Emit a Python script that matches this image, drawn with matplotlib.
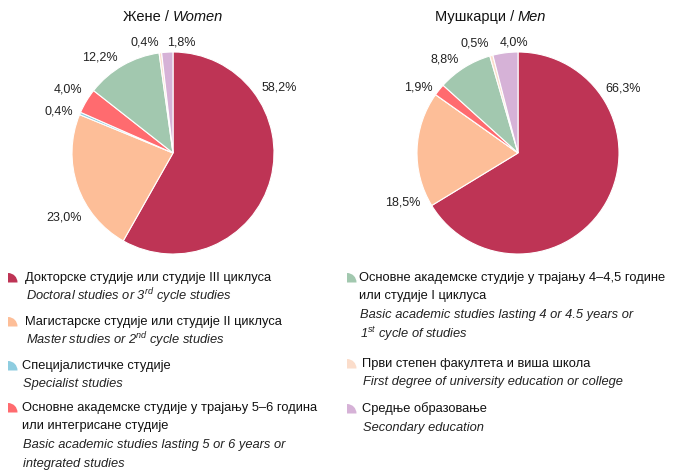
import matplotlib
matplotlib.use('Agg')
import matplotlib.pyplot as plt
from matplotlib.patches import Wedge

plt.rcParams['font.family'] = ['Liberation Sans', 'DejaVu Sans']
plt.rcParams['mathtext.fontset'] = 'custom'
plt.rcParams['mathtext.it'] = 'Liberation Sans:italic'
plt.rcParams['mathtext.rm'] = 'Liberation Sans'

# data
cat_sr = ['Докторске студије или студије III циклуса',
          'Магистарске студије или студије II циклуса',
          'Специјалистичке студије',
          'Основне академске студије у трајању 5–6 година\nили интегрисане студије',
          'Основне академске студије у трајању 4–4,5 године\nили студије I циклуса',
          'Први степен факултета и виша школа',
          'Средње образовање']
cat_en = ['Doctoral studies or 3$^{rd}$ cycle studies',
          'Master studies or 2$^{nd}$ cycle studies',
          'Specialist studies',
          'Basic academic studies lasting 5 or 6 years or\nintegrated studies',
          'Basic academic studies lasting 4 or 4.5 years or\n1$^{st}$ cycle of studies',
          'First degree of university education or college',
          'Secondary education']
colors = ['#BE3455', '#FDBE98', '#8ECDE0', '#FF6B6F', '#A2C8AF', '#FBDDCB', '#D6B2D7']
women = [58.2, 23.0, 0.4, 4.0, 12.2, 0.4, 1.8]
men = [66.3, 18.5, 0.0, 1.9, 8.8, 0.5, 4.0]

# label spots (pie radius units)
women_lab = [(1.05, 0.65), (-1.08, -0.64), (-1.13, 0.41), (-1.04, 0.63),
             (-0.72, 0.95), (-0.28, 1.09), (0.08, 1.09)]
men_lab = [(1.04, 0.64), (-1.14, -0.49), None, (-0.99, 0.65),
           (-0.73, 0.93), (-0.43, 1.08), (-0.04, 1.09)]

W, H = 673, 471
fig = plt.figure(figsize=(W / 100, H / 100), dpi=100)


def draw_pie(cx, cy, r, vals, labs, title):
    ax = fig.add_axes([(cx - r) / W, (H - cy - r) / H, 2 * r / W, 2 * r / H])
    ax.pie(vals, colors=colors, startangle=90, counterclock=False, radius=1,
           wedgeprops=dict(edgecolor='white', linewidth=0.8))
    ax.set_xlim(-1, 1)
    ax.set_ylim(-1, 1)
    ax.set_aspect('equal')
    ax.axis('off')
    for v, pos in zip(vals, labs):
        if pos is None or v == 0:
            continue
        ax.text(pos[0], pos[1], ('%.1f%%' % v).replace('.', ','), ha='center',
                va='center', fontsize=9, color='#222222', clip_on=False)
    sr, en = title
    ax.text(0, 1.35, sr + ' / ', ha='right', va='center', fontsize=10.5, color='#111111')
    ax.text(0, 1.35, en, ha='left', va='center', fontsize=10.5, style='italic', color='#111111')


draw_pie(173, 153, 101, women, women_lab, ('Жене', 'Women'))
draw_pie(518, 153, 101, men, men_lab, ('Мушкарци', 'Men'))

# legend
lg = fig.add_axes([0, 0, 1, 1])
lg.set_xlim(0, W)
lg.set_ylim(H, 0)
lg.axis('off')

left_items = [(0, 25, 278), (1, 25, 322), (2, 22, 366), (3, 22, 408)]
right_items = [(4, 359, 278), (5, 362, 364), (6, 362, 409)]
lh = 18.5
fs = 9.3

for items, mx in ((left_items, 8), (right_items, 347)):
    for i, tx, ty in items:
        lg.add_patch(Wedge((mx, ty + 4.5), 9.5, 270, 360, facecolor=colors[i],
                           edgecolor='none', transform=lg.transData))
        sr_lines = cat_sr[i].split('\n')
        en_lines = cat_en[i].split('\n')
        y = ty
        for s in sr_lines:
            lg.text(tx, y, s, ha='left', va='center', fontsize=fs, color='#111111')
            y += lh
        for s in en_lines:
            lg.text(tx + 1, y, s, ha='left', va='center', fontsize=fs,
                    style='italic', color='#222222')
            y += lh

fig.savefig('out.png', dpi=100)
